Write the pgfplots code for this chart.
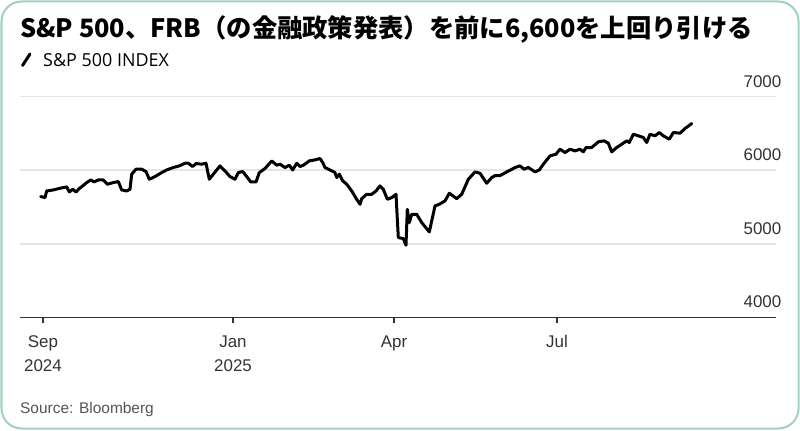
\documentclass[border=0pt]{standalone}
\usepackage{fontspec}
\setmainfont{Liberation Sans}
\newfontfamily\cjk{Noto Sans CJK JP}
\newfontfamily\opensans{Open Sans}
\usepackage{pgfplots}
\pgfplotsset{compat=1.18}
\definecolor{framecol}{HTML}{9FD3C0}
\definecolor{gridcol}{HTML}{E6E6E6}
\definecolor{txtcol}{HTML}{333333}
\definecolor{srccol}{HTML}{555555}
\pgfplotstableread{
x y
40.7 5642
45 5628
46.7 5718
53.3 5732
60 5755
66.7 5773
69.3 5705
72.7 5741
76 5705
79.3 5751
82.7 5787
86.7 5832
90.7 5868
94 5841
98.3 5868
103.3 5868
107.3 5810
113.3 5832
118.3 5846
121.7 5732
126.7 5718
130 5741
131.7 5946
136 6014
141.7 6014
146 5982
149.3 5877
155 5914
161.7 5968
166.7 6004
173.3 6037
179.3 6059
185 6095
188.3 6095
192.7 6050
196 6091
201.7 6082
206 6095
209.3 5877
213.3 5946
220 6059
225 5991
230 5914
235 5877
238.3 5968
242.7 5982
246.7 5914
250.7 5841
256 5841
259.3 5968
265 6023
271.7 6127
276.7 6068
280 6082
285 6037
289.3 6068
292.7 6004
296.7 6095
300 6050
303.3 6068
309.3 6127
315 6141
320 6159
322.7 6105
325 6037
330 6004
335 5968
336.7 5900
339.3 5946
342.7 5855
346.7 5810
351.7 5718
356.7 5605
360 5537
361.7 5614
366.7 5673
371.7 5673
376 5718
380 5787
383.3 5741
387.3 5605
391.7 5628
396 5673
398.3 5084
403.3 5071
406 4980
407.3 5469
409.3 5288
411.7 5401
416.7 5401
421.7 5288
429.3 5161
435 5515
439.3 5537
445 5583
449.3 5687
456.7 5614
461.7 5673
468.3 5877
475 5977
480 5959
486.7 5823
491.7 5900
495 5927
500 5927
506.7 5977
510.7 6004
515 6037
520 6059
524 6014
528.3 6037
535 5977
539.3 6004
543.3 6082
550 6195
556 6218
560 6286
565 6241
570 6286
575 6263
580 6286
583.3 6250
586 6309
591.7 6309
598.3 6386
604 6400
608.3 6368
611.7 6250
616.7 6309
621.7 6354
626.7 6400
629.3 6377
633.3 6490
638.3 6468
643.3 6445
646.7 6377
650 6490
655 6468
659.3 6513
663.3 6468
669.3 6422
673.3 6513
680 6504
685 6567
691.7 6635
}\spx
\begin{document}
\begin{tikzpicture}[x=1bp,y=1bp]
\useasboundingbox (0,0) rectangle (800,430);
\draw[framecol, line width=2bp, fill=white, rounded corners=20bp] (1.5,1.5) rectangle (798.5,428.5);
\node[anchor=base west, inner sep=0pt] at (20,392) {\cjk\bfseries\fontsize{25.4}{30}\selectfont S\&P 500、FRB（の金融政策発表）を前に6,600を上回り引ける};
\draw[black, line width=3bp, line cap=round] (22.5,364.5) -- (30,376);
\node[anchor=base west, inner sep=0pt] at (43,364) {\opensans\fontsize{18}{20}\selectfont S\&P 500 INDEX};
\node[anchor=base west, inner sep=0pt, text=srccol] at (20,16.5) {\fontsize{15.5}{18}\selectfont Source: Bloomberg};
\begin{axis}[
  at={(20bp,112.7bp)}, anchor=south west,
  scale only axis, width=755.5bp, height=220.6bp,
  xmin=20, xmax=775.5, ymin=4000, ymax=7000,
  axis x line*=bottom, axis y line*=right,
  x axis line style={-, draw=txtcol, line width=1.2bp},
  y axis line style={draw=none},
  xtick={43,233,394,557},
  xticklabels={{Sep\\2024},{Jan\\2025},{Apr},{Jul}},
  xtick pos=bottom, tick align=outside,
  xtick style={draw=txtcol, line width=1.2bp},
  major tick length=6bp,
  xticklabel style={align=center, anchor=north, inner sep=0pt, yshift=-12bp, text=txtcol, font=\fontsize{17}{24}\selectfont},
  ytick={4000,5000,6000,7000},
  yticklabels={4000,5000,6000,7000},
  ytick style={draw=none},
  yticklabel pos=right,
  yticklabel style={anchor=base east, inner sep=0pt, yshift=9.5bp, text=txtcol, font=\fontsize{17}{20}\selectfont},
  ymajorgrids, grid style={gridcol, line width=1.5bp},
]
\addplot[black, line width=3bp, line join=round, line cap=round] table[x=x,y=y] {\spx};
\end{axis}
\end{tikzpicture}
\end{document}
